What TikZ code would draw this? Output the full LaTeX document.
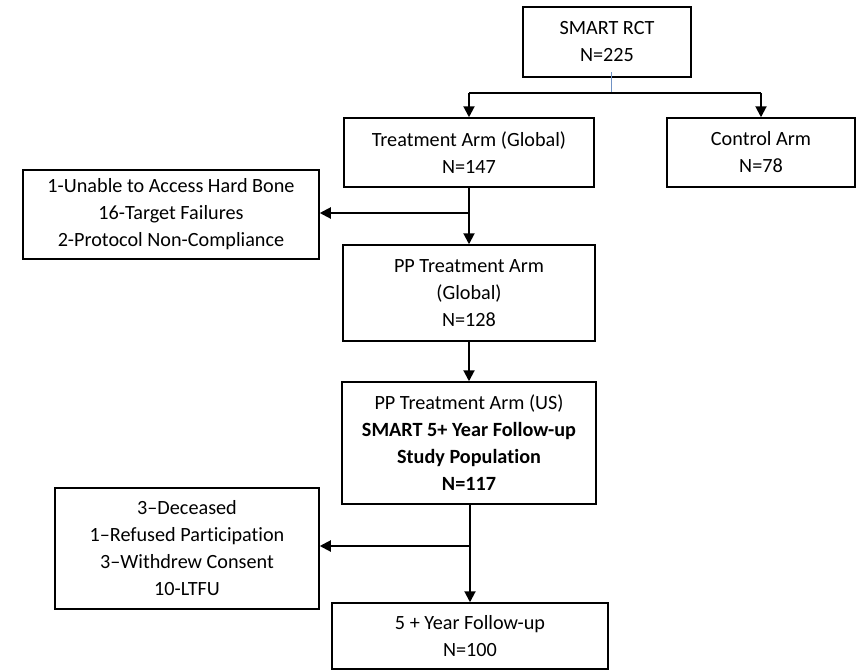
\documentclass[tikz,border=0pt]{standalone}
\usepackage{fontspec}
\setmainfont{Carlito}[Ligatures={NoCommon}]
\usetikzlibrary{arrows.meta}

\definecolor{tickblue}{RGB}{112,146,196}

\tikzset{
    >={Triangle[length=11pt,width=11pt]},
    box/.style={draw, line width=1.5pt, align=center, inner sep=0pt,
        font=\fontsize{20.2}{27}\selectfont},
    link/.style={line width=2pt},
}

\begin{document}
\begin{tikzpicture}[x=1pt,y=-1pt]
    \useasboundingbox (0,0) rectangle (862,670);

    \node[box, minimum width=168pt, minimum height=70pt] (rct) at (607,42) {SMART RCT\\N=225};
    \node[box, minimum width=250pt, minimum height=69pt] (treat) at (469,152.5) {Treatment Arm (Global)\\N=147};
    \node[box, minimum width=188pt, minimum height=69pt] (ctrl) at (761,152.5) {Control Arm\\N=78};
    \node[box, minimum width=296pt, minimum height=89pt] (excl1) at (171,214.5) {1-Unable to Access Hard Bone\\16-Target Failures\\2-Protocol Non-Compliance};
    \node[box, minimum width=252pt, minimum height=96pt] (pp) at (469,293) {PP Treatment Arm\\(Global)\\N=128};
    \node[box, minimum width=254pt, minimum height=122pt] (us) at (469,443) {PP Treatment Arm (US)\\\textbf{SMART 5+ Year Follow-up}\\\textbf{Study Population}\\\textbf{N=117}};
    \node[box, minimum width=264pt, minimum height=121pt] (excl2) at (187,548.5) {3--Deceased\\1--Refused Participation\\3--Withdrew Consent\\10-LTFU};
    \node[box, minimum width=276pt, minimum height=66pt] (fu) at (470,636) {5 + Year Follow-up\\N=100};

    % split below the randomisation box
    \coordinate (tick) at (611,72);
    \coordinate (split) at (611,93);
    \draw[tickblue, line width=1pt] (tick) -- (split);
    \draw[link] (treat.north |- split) -- (ctrl.north |- split);
    \draw[link,->] (treat.north |- split) -- (treat.north);
    \draw[link,->] (ctrl.north |- split) -- (ctrl.north);

    % exclusions from the treatment arm
    \coordinate (drop1) at (469,213);
    \draw[link,->] (treat.south) -- (pp.north);
    \draw[link,->] (drop1) -- (drop1 -| excl1.east);

    \draw[link,->] (pp.south) -- (us.north);

    % losses before the 5 year visit
    \coordinate (drop2) at (470,546);
    \draw[link,->] (us.south -| fu.north) -- (fu.north);
    \draw[link,->] (drop2) -- (drop2 -| excl2.east);
\end{tikzpicture}
\end{document}
